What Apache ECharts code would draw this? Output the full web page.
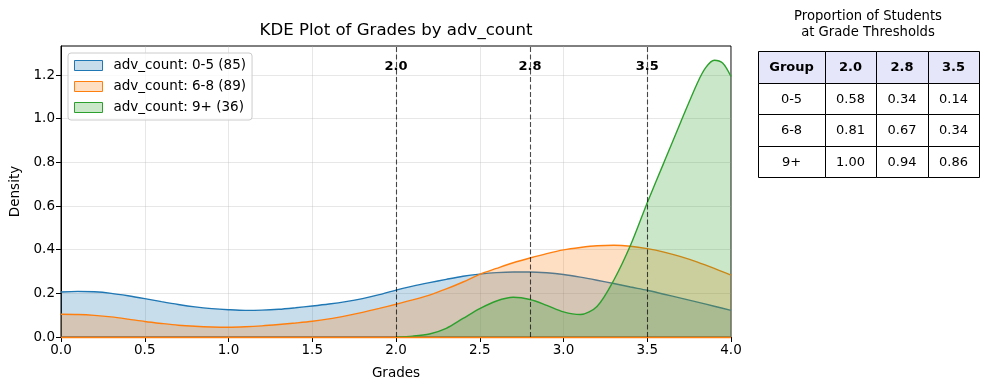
<!DOCTYPE html>
<html>
<head>
<meta charset="utf-8">
<script src="https://cdn.jsdelivr.net/npm/echarts@6/dist/echarts.min.js"></script>
<style>html,body{margin:0;padding:0;background:#fff;}#c{width:989px;height:390px;}</style>
</head>
<body>
<div id="c"></div>
<script>
// ---- data ----
const xGrid = [0.0,0.1,0.2,0.3,0.4,0.5,0.6,0.7,0.8,0.9,1.0,1.1,1.2,1.3,1.4,1.5,1.6,1.7,1.8,1.9,2.0,
               2.1,2.2,2.3,2.4,2.5,2.6,2.7,2.8,2.9,3.0,3.1,3.2,3.3,3.4,3.5,3.6,3.7,3.8,3.9,4.0];
const densityLow = [0.206,0.209,0.207,0.200,0.189,0.176,0.162,0.149,0.138,0.130,0.125,0.122,0.123,0.127,0.134,0.142,0.151,0.162,0.176,0.194,0.215,
                    0.233,0.249,0.264,0.278,0.288,0.295,0.298,0.298,0.294,0.286,0.274,0.260,0.245,0.229,0.214,0.196,0.178,0.160,0.141,0.122];
const densityMid = [0.104,0.103,0.099,0.092,0.082,0.071,0.062,0.054,0.049,0.046,0.045,0.047,0.051,0.057,0.064,0.072,0.083,0.097,0.113,0.131,0.150,
                    0.170,0.192,0.220,0.252,0.287,0.314,0.340,0.362,0.382,0.399,0.410,0.418,0.420,0.416,0.405,0.389,0.368,0.343,0.314,0.283];
const xHigh = [2.0,2.1,2.2,2.3,2.4,2.5,2.6,2.7,2.8,2.9,3.0,3.1,3.2,3.3,3.4,3.5,3.6,3.7,3.8,3.85,3.9,3.95,4.0];
const densityHigh = [0.000,0.004,0.014,0.040,0.085,0.130,0.165,0.182,0.172,0.145,0.115,0.103,0.140,0.260,0.420,0.615,0.800,0.985,1.165,1.235,1.268,1.255,1.193];
const seriesNames = ['adv_count: 0-5 (85)','adv_count: 6-8 (89)','adv_count: 9+ (36)'];
const thresholds = [2.0, 2.8, 3.5];
const thresholdLabelY = 1.237;
const xTicks = [0.0,0.5,1.0,1.5,2.0,2.5,3.0,3.5,4.0];
const yTicks = [0.0,0.2,0.4,0.6,0.8,1.0,1.2];
const tableHeader = ['Group','2.0','2.8','3.5'];
const tableGroups = ['0-5','6-8','9+'];
const tableValues = [[0.58,0.34,0.14],[0.81,0.67,0.34],[1.00,0.94,0.86]];

// ---- build ----
const FONT = 'DejaVu Sans';
const colors = ['#1f77b4','#ff7f0e','#2ca02c'];
const fills = ['rgba(31,119,180,0.25)','rgba(255,127,14,0.25)','rgba(44,160,44,0.25)'];
const zip = (xs, ys) => xs.map((x, i) => [x, ys[i]]);
const curves = [zip(xGrid, densityLow), zip(xGrid, densityMid), zip(xHigh, densityHigh)];

const series = curves.map((d, i) => ({
  name: seriesNames[i], type: 'line', data: d, smooth: 0.3, showSymbol: false, symbol: 'none',
  lineStyle: {color: colors[i], width: 1.4},
  itemStyle: {color: colors[i]},
  areaStyle: {color: fills[i], opacity: 1, origin: 0},
  z: 2 + i, silent: true, animation: false
}));
// orange polygon baseline edge
series[1].markLine = {
  silent: true, symbol: 'none', animation: false,
  lineStyle: {color: colors[1], type: 'solid', width: 1.4},
  label: {show: false},
  data: [{yAxis: 0}]
};
series.push({
  name: 'thresholds', type: 'scatter', symbol: 'circle', symbolSize: 1, z: 10, silent: true, animation: false,
  itemStyle: {color: 'rgba(0,0,0,0)', opacity: 1},
  data: thresholds.map(t => [t, thresholdLabelY]),
  label: {show: true, position: 'inside', formatter: p => p.value[0].toFixed(1),
          fontFamily: FONT, fontWeight: 'bold', fontSize: 13, color: '#000',
          textBorderWidth: 0, textBorderColor: 'transparent', textShadowBlur: 0},
  markLine: {
    silent: true, symbol: 'none', animation: false,
    lineStyle: {color: 'rgba(0,0,0,0.7)', type: [5, 2.5], width: 1.1, opacity: 1},
    label: {show: false},
    data: thresholds.map(t => ({xAxis: t}))
  }
});

// table graphics
const colEdges = [758, 825, 876, 928, 979];
const rowEdges = [51, 83, 114, 146, 177];
const graphic = [];
graphic.push({type: 'text', x: 868, y: 17, style: {text: 'Proportion of Students', fontFamily: FONT, fontSize: 13.2, fill: '#000', align: 'center', verticalAlign: 'middle'}});
graphic.push({type: 'text', x: 868, y: 33, style: {text: 'at Grade Thresholds', fontFamily: FONT, fontSize: 13.2, fill: '#000', align: 'center', verticalAlign: 'middle'}});
const rows = [tableHeader].concat(tableGroups.map((g, r) => [g].concat(tableValues[r].map(v => v.toFixed(2)))));
rows.forEach((row, r) => {
  row.forEach((txt, c) => {
    const x0 = colEdges[c], x1 = colEdges[c + 1], y0 = rowEdges[r], y1 = rowEdges[r + 1];
    graphic.push({type: 'rect', shape: {x: x0 + 0.5, y: y0 + 0.5, width: x1 - x0, height: y1 - y0},
      style: {fill: r === 0 ? '#e6e6fa' : '#fff', stroke: '#000', lineWidth: 1}});
    graphic.push({type: 'text', x: (x0 + x1) / 2, y: (y0 + y1) / 2 + 1, z: 5,
      style: {text: txt, fontFamily: FONT, fontSize: 13, fontWeight: r === 0 ? 'bold' : 'normal', fill: '#000', align: 'center', verticalAlign: 'middle'}});
  });
});
graphic.push({type: 'text', x: 396, y: 31, style: {text: 'KDE Plot of Grades by adv_count', fontFamily: FONT, fontSize: 16.6, fill: '#000', align: 'center', verticalAlign: 'middle'}});

const axisFont = {fontFamily: FONT, fontSize: 13.5, color: '#000'};
const option = {
  animation: false,
  backgroundColor: '#fff',
  grid: {left: 61, right: 258, top: 46, bottom: 53, show: true, borderColor: '#000', borderWidth: 1, backgroundColor: 'transparent', containLabel: false},
  xAxis: {
    type: 'value', min: 0, max: 4, interval: 0.5,
    name: 'Grades', nameLocation: 'middle', nameGap: 29, nameTextStyle: {fontFamily: FONT, fontSize: 13.5, color: '#000'},
    axisLine: {show: true, lineStyle: {color: '#000', width: 1}},
    axisTick: {show: true, inside: false, length: 5, lineStyle: {color: '#000'}, customValues: xTicks},
    axisLabel: Object.assign({margin: 6, formatter: v => v.toFixed(1), customValues: xTicks}, axisFont),
    splitLine: {show: true, lineStyle: {color: 'rgba(176,176,176,0.3)', width: 1}}
  },
  yAxis: {
    type: 'value', min: 0, max: 1.333, interval: 0.2,
    name: 'Density', nameLocation: 'middle', nameGap: 33, nameRotate: 90, nameTextStyle: {fontFamily: FONT, fontSize: 13.5, color: '#000'},
    axisLine: {show: true, lineStyle: {color: '#000', width: 1}},
    axisTick: {show: true, inside: false, length: 5, lineStyle: {color: '#000'}, customValues: yTicks},
    axisLabel: Object.assign({margin: 6, formatter: v => v.toFixed(1), customValues: yTicks}, axisFont),
    splitLine: {show: true, lineStyle: {color: 'rgba(176,176,176,0.3)', width: 1}}
  },
  legend: {
    orient: 'vertical', left: 68, top: 53,
    data: seriesNames.map((n, i) => ({name: n, icon: 'rect', itemStyle: {color: fills[i], borderColor: colors[i], borderWidth: 1}})),
    itemWidth: 28, itemHeight: 10, itemGap: 6,
    padding: [5, 6, 5, 6],
    backgroundColor: 'rgba(255,255,255,0.8)', borderColor: '#cccccc', borderWidth: 1, borderRadius: 3,
    textStyle: {fontFamily: FONT, fontSize: 13.5, color: '#000', padding: [0, 0, 0, 6], lineHeight: 15},
    selectedMode: false
  },
  series: series,
  graphic: graphic
};
const chart = echarts.init(document.getElementById('c'), null, {renderer: 'canvas'});
chart.setOption(option);
</script>
</body>
</html>
